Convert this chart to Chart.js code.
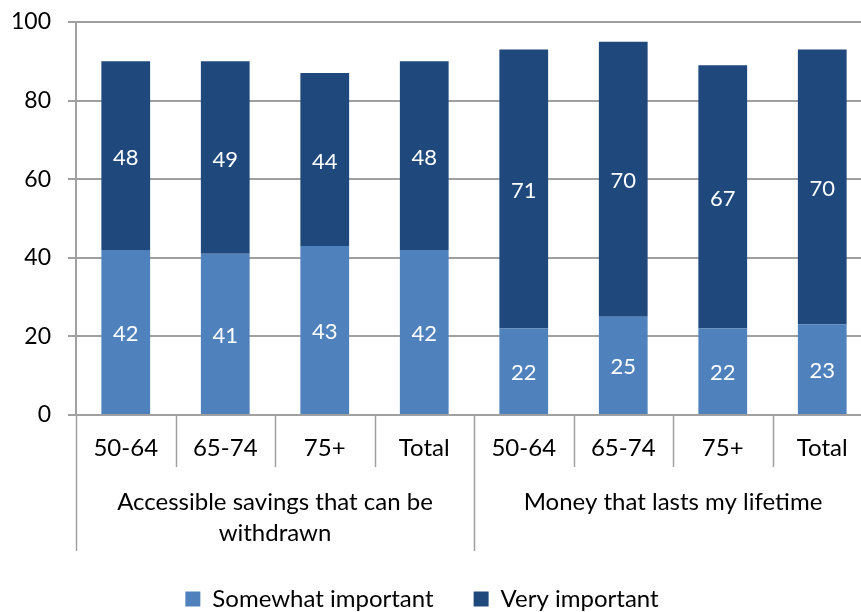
<!DOCTYPE html>
<html>
<head>
<meta charset="utf-8">
<script src="https://cdn.jsdelivr.net/npm/chart.js@4/dist/chart.umd.min.js"></script>
<style>
  html, body { margin: 0; padding: 0; background: #fff; overflow: hidden; }
  #wrap { width: 861px; height: 612px; overflow: hidden; }
</style>
</head>
<body>
<div id="wrap"><canvas id="chart" width="880" height="612"></canvas></div>
<script>
// categories along the x axis
const ageBands = ['50-64', '65-74', '75+', 'Total', '50-64', '65-74', '75+', 'Total'];
// outer group labels (each covers 4 bars)
const groupLabels = [['Accessible savings that can be', 'withdrawn'], ['Money that lasts my lifetime']];
const groupSize = 4;
// series values (%)
const somewhatImportant = [42, 41, 43, 42, 22, 25, 22, 23];
const veryImportant = [48, 49, 44, 48, 71, 70, 67, 70];
// y axis ticks
const yTicks = [0, 20, 40, 60, 80, 100];

const FONT = 'Lato, "Open Sans", sans-serif';
const GRID = '#a0a0a0';

// white numbers in the middle of each segment
const barLabels = {
    id: 'barLabels',
    afterDatasetsDraw(chart) {
        const ctx = chart.ctx;
        ctx.save();
        ctx.fillStyle = '#fff';
        ctx.font = '22px ' + FONT;
        ctx.textAlign = 'center';
        ctx.textBaseline = 'middle';
        chart.data.datasets.forEach((ds, i) => {
            chart.getDatasetMeta(i).data.forEach((bar, j) => {
                const p = bar.getProps(['x', 'y', 'base'], true);
                ctx.fillText(ds.data[j], p.x, (p.y + p.base) / 2 + 2);
            });
        });
        ctx.restore();
    }
};

// divider lines and the outer group labels under the x axis
const groupAxis = {
    id: 'groupAxis',
    afterLayout(chart) {
        // the visible page is narrower than the canvas, so centre the legend on it
        chart.legend.left -= 14;
        chart.legend.right -= 14;
    },
    afterDraw(chart) {
        const ctx = chart.ctx;
        const x = chart.scales.x;
        const top = x.top;
        const w = x.getPixelForValue(1) - x.getPixelForValue(0);
        const start = x.getPixelForValue(0) - w / 2;
        ctx.save();
        ctx.strokeStyle = GRID;
        ctx.lineWidth = 1.5;
        for (let k = 0; k <= ageBands.length; k++) {
            const px = Math.round(start + k * w) + 0.5;
            const long = k % groupSize === 0;
            ctx.beginPath();
            ctx.moveTo(px, top);
            ctx.lineTo(px, top + (long ? 136 : 52));
            ctx.stroke();
        }
        ctx.fillStyle = '#000';
        ctx.font = '24px ' + FONT;
        ctx.textAlign = 'center';
        ctx.textBaseline = 'middle';
        groupLabels.forEach((lines, g) => {
            const cx = start + (g * groupSize + groupSize / 2) * w;
            lines.forEach((line, l) => {
                ctx.fillText(line, cx, top + 87 + l * 31);
            });
        });
        ctx.restore();
    }
};

const ctx = document.getElementById('chart').getContext('2d');
new Chart(ctx, {
    type: 'bar',
    data: {
        labels: ageBands,
        datasets: [
            { label: 'Somewhat important', data: somewhatImportant, backgroundColor: '#4F81BD', categoryPercentage: 1, barPercentage: 0.49 },
            { label: 'Very important', data: veryImportant, backgroundColor: '#1F497D', categoryPercentage: 1, barPercentage: 0.49 }
        ]
    },
    options: {
        responsive: false,
        animation: false,
        layout: { padding: { top: 0, right: 8, left: 0, bottom: -9 } },
        scales: {
            x: {
                stacked: true,
                grid: { display: false },
                border: { color: GRID, width: 2 },
                ticks: { color: '#000', font: { family: FONT, size: 24 }, padding: 11, maxRotation: 0 },
                afterFit: (scale) => { scale.height = 132; }
            },
            y: {
                stacked: true,
                min: 0,
                max: 100,
                afterBuildTicks: (scale) => { scale.ticks = yTicks.map(v => ({ value: v })); },
                grid: { color: GRID, lineWidth: 2, tickLength: 8 },
                border: { color: GRID, width: 2 },
                ticks: { color: '#000', font: { family: FONT, size: 23 }, padding: 17 },
                afterFit: (scale) => {
                    scale.width = 76;
                    scale.paddingTop = 22;
                    scale.paddingBottom = 0;
                }
            }
        },
        plugins: {
            legend: {
                position: 'bottom',
                labels: {
                    color: '#000',
                    font: { family: FONT, size: 24 },
                    boxWidth: 15,
                    boxHeight: 15,
                    padding: 40
                }
            },
            tooltip: { enabled: false }
        }
    },
    plugins: [barLabels, groupAxis]
});
</script>
</body>
</html>
